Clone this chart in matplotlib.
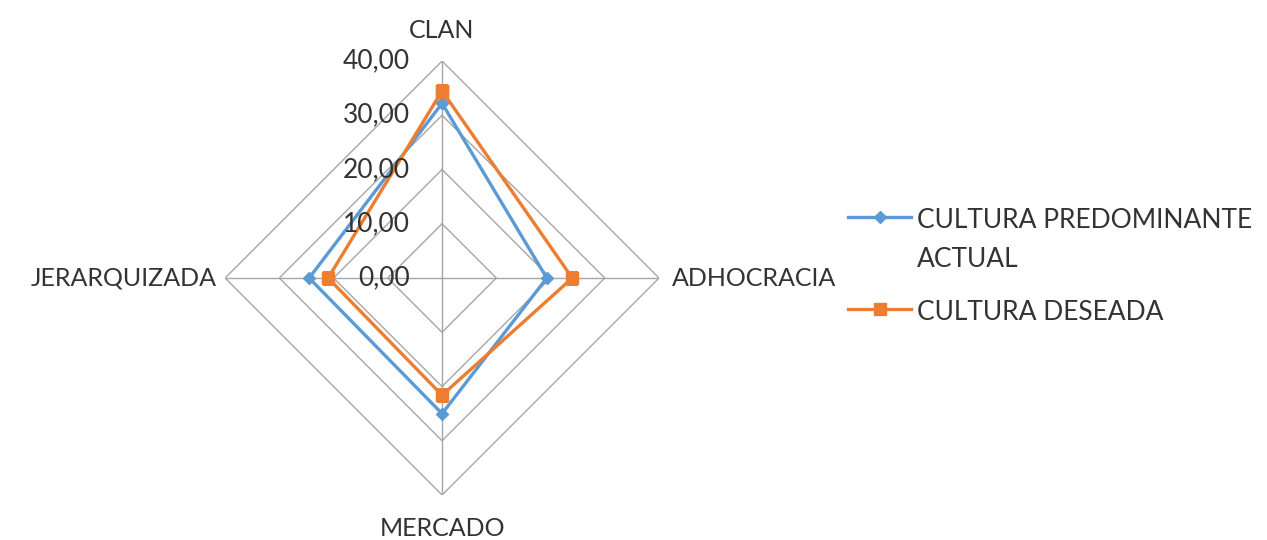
import numpy as np
import matplotlib
matplotlib.use("Agg")
import matplotlib.pyplot as plt

categories = ["CLAN", "ADHOCRACIA", "MERCADO", "JERARQUIZADA"]
actual = [32.2, 19.3, 25.0, 24.5]
deseada = [34.5, 24.0, 21.6, 21.0]
series_names = ["CULTURA PREDOMINANTE\nACTUAL", "CULTURA DESEADA"]
ring_values = [0, 10, 20, 30, 40]
ring_labels = ["0,00", "10,00", "20,00", "30,00", "40,00"]

plt.rcParams["font.family"] = ["Lato", "DejaVu Sans"]
TEXT = "#333333"
GRID = "#a6a6a6"
BLUE = "#5b9bd5"
ORANGE = "#ed7d31"

fig = plt.figure(figsize=(12.67, 5.40), dpi=100)
ax = fig.add_axes([0.1776, 0.0833, 0.3426, 0.8037], projection="polar")
ax.set_theta_offset(np.pi / 2)
ax.set_theta_direction(-1)
ax.set_ylim(0, 40)
ax.grid(False)
ax.spines["polar"].set_visible(False)
ax.set_xticks([])
ax.set_yticks([])
ax.patch.set_alpha(0)

n = len(categories)
angles = np.arange(n) * 2 * np.pi / n
closed = np.append(angles, angles[0])

# polygonal grid rings and spokes
for r in ring_values[1:]:
    ax.plot(closed, [r] * (n + 1), color=GRID, lw=1.0, zorder=1)
for a in angles:
    ax.plot([a, a], [0, 40], color=GRID, lw=1.0, zorder=1)

l1, = ax.plot(closed, actual + actual[:1], color=BLUE, lw=2.4, marker="D",
              ms=6.5, zorder=3, label=series_names[0])
l2, = ax.plot(closed, deseada + deseada[:1], color=ORANGE, lw=2.4, marker="s",
              ms=8, zorder=4, label=series_names[1])

# value labels along the top axis
for r, lab in zip(ring_values, ring_labels):
    ax.annotate(lab, xy=(0, r), xytext=(-23, 0), textcoords="offset points",
                ha="right", va="center", fontsize=19, color=TEXT, zorder=5)

# category labels
offsets = {"CLAN": (0, 14, "center", "bottom"),
           "ADHOCRACIA": (9, 0, "left", "center"),
           "MERCADO": (0, -16, "center", "top"),
           "JERARQUIZADA": (-6, 0, "right", "center")}
for a, cat in zip(angles, categories):
    dx, dy, ha, va = offsets[cat]
    ax.annotate(cat, xy=(a, 40), xytext=(dx, dy), textcoords="offset points",
                ha=ha, va=va, fontsize=18, color=TEXT, annotation_clip=False)

leg = fig.legend(handles=[l1, l2], loc="upper left",
                 bbox_to_anchor=(0.661, 0.634), frameon=False, fontsize=19,
                 labelcolor=TEXT, handlelength=2.4, handletextpad=0.22,
                 labelspacing=1.05, borderaxespad=0)
for t in leg.get_texts():
    t.set_linespacing(1.7)
# keep each legend line next to the first line of its label
for column in leg._legend_handle_box.get_children():
    for entry in column.get_children():
        entry.align = "top"

fig.savefig("out.png", dpi=100, facecolor="white")
